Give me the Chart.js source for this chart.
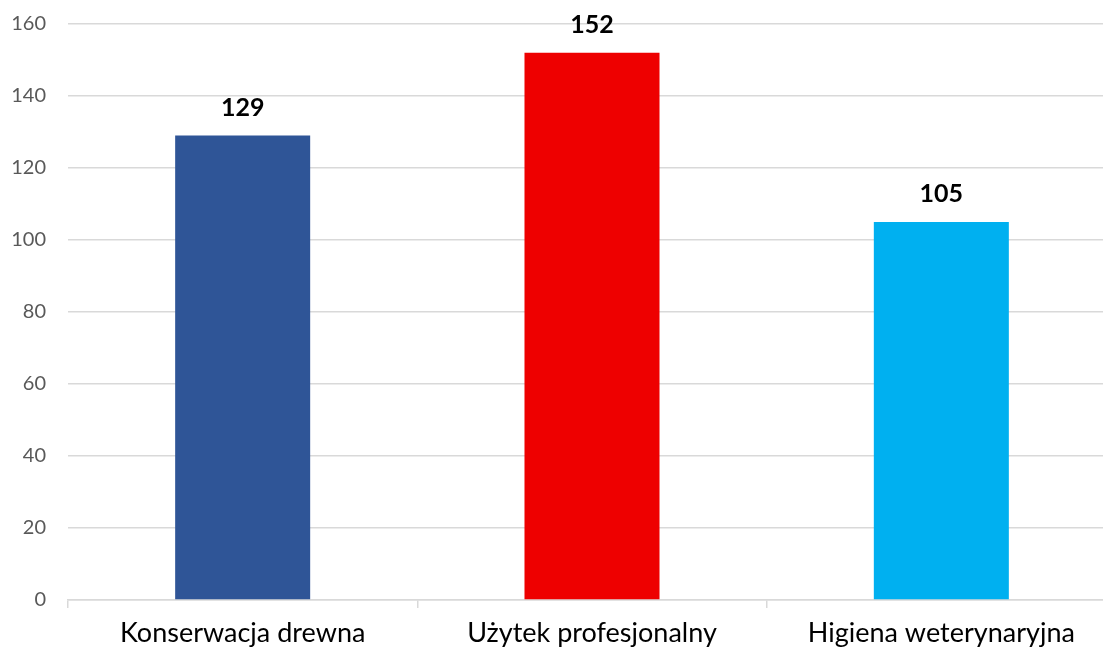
<!DOCTYPE html>
<html>
<head>
<meta charset="utf-8">
<script src="https://cdn.jsdelivr.net/npm/chart.js@4/dist/chart.umd.min.js"></script>
<style>
  html, body { margin: 0; padding: 0; background: #ffffff; overflow: hidden; }
  #wrap { position: relative; width: 1125px; height: 675px; margin-top: -10px; }
</style>
</head>
<body>
<div id="wrap"><canvas id="c"></canvas></div>
<script>
// Liczba produktów biobójczych wg zastosowania
const categories = ['Konserwacja drewna', 'Użytek profesjonalny', 'Higiena weterynaryjna'];
const values = [129, 152, 105];
const barColors = ['#2F5597', '#EE0000', '#00B0F0'];
const yTicks = [0, 20, 40, 60, 80, 100, 120, 140, 160];

// Bold value labels above each bar
const valueLabels = {
  id: 'valueLabels',
  afterDatasetsDraw(chart) {
    const ctx = chart.ctx;
    const meta = chart.getDatasetMeta(0);
    ctx.save();
    ctx.font = 'bold 25px Lato';
    ctx.fillStyle = '#000000';
    ctx.textAlign = 'center';
    ctx.textBaseline = 'alphabetic';
    meta.data.forEach((bar, i) => {
      ctx.fillText(String(values[i]), bar.x, bar.y - 20);
    });
    ctx.restore();
  }
};

new Chart(document.getElementById('c'), {
  type: 'bar',
  data: {
    labels: categories,
    datasets: [{
      data: values,
      backgroundColor: barColors,
      borderWidth: 0,
      categoryPercentage: 1,
      barPercentage: 0.3865
    }]
  },
  options: {
    responsive: true,
    maintainAspectRatio: false,
    animation: false,
    layout: { padding: { top: 14, right: 9, left: 0, bottom: 0 } },
    plugins: { legend: { display: false }, tooltip: { enabled: false } },
    scales: {
      x: {
        grid: { offset: true, drawOnChartArea: false, drawTicks: true, tickLength: 8, color: '#d9d9d9', lineWidth: 1.5 },
        border: { display: true, color: '#d9d9d9', width: 1.5 },
        ticks: { color: '#000000', font: { family: 'Lato', size: 27 }, padding: 9, maxRotation: 0 },
        afterFit(scale) { scale.height = 65; }
      },
      y: {
        min: 0,
        max: 160,
        afterBuildTicks(scale) { scale.ticks = yTicks.map(v => ({ value: v })); },
        grid: { drawTicks: false, color: '#d9d9d9', lineWidth: 1.5 },
        border: { display: false },
        ticks: { color: '#595959', font: { family: 'Lato', size: 20 }, padding: 22 },
        afterFit(scale) { scale.width = 68; }
      }
    }
  },
  plugins: [valueLabels]
});
</script>
</body>
</html>
